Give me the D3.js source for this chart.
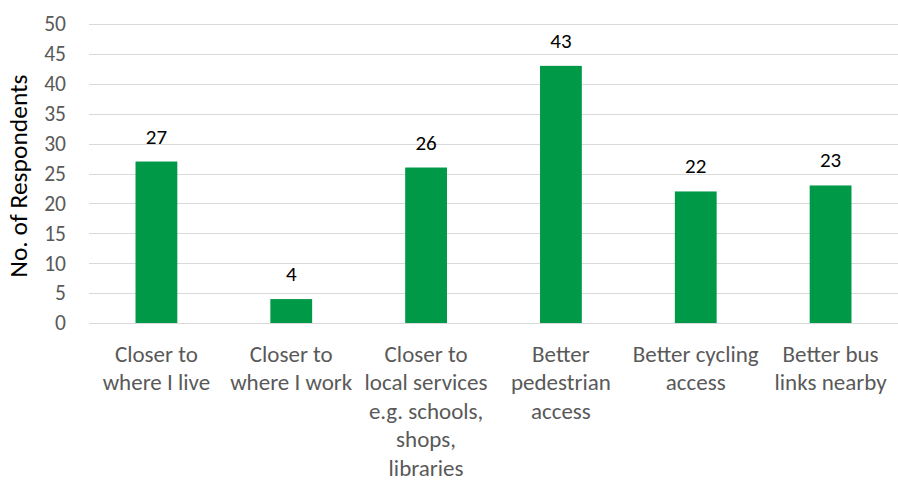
<!DOCTYPE html>
<html>
<head>
<meta charset="utf-8">
<script src="https://cdn.jsdelivr.net/npm/d3@7"></script>
<style>
  html, body { margin: 0; padding: 0; background: #fff; }
  svg { display: block; font-family: Carlito, Lato, "Open Sans", sans-serif; }
</style>
</head>
<body>
<svg id="chart" width="898" height="482"></svg>
<script>
const categories = [
  ["Closer to", "where I live"],
  ["Closer to", "where I work"],
  ["Closer to", "local services", "e.g. schools,", "shops,", "libraries"],
  ["Better", "pedestrian", "access"],
  ["Better cycling", "access"],
  ["Better bus", "links nearby"]
];
const values = [27, 4, 26, 43, 22, 23];
const yTicks = [0, 5, 10, 15, 20, 25, 30, 35, 40, 45, 50];
const yTitle = "No. of Respondents";

const svg = d3.select("#chart");
const margin = { left: 89, right: 0 };
const W = 898;
const x = d3.scaleBand()
  .domain(d3.range(categories.length))
  .range([margin.left, W - margin.right])
  .paddingInner(0.69).paddingOuter(0.345);
const y = d3.scaleLinear().domain([0, 50]).range([323, 24]);

// gridlines
svg.append("g").selectAll("line").data(yTicks).join("line")
  .attr("x1", margin.left).attr("x2", W)
  .attr("y1", d => Math.round(y(d)) + 0.5).attr("y2", d => Math.round(y(d)) + 0.5)
  .attr("stroke", "#d9d9d9").attr("stroke-width", 1);

// y axis labels
const yAxis = d3.axisLeft(y).tickValues(yTicks).tickSize(0).tickPadding(0);
const gy = svg.append("g").attr("transform", "translate(66,0)").call(yAxis);
gy.select(".domain").remove();
gy.selectAll("text").attr("font-size", 21.5).attr("fill", "#595959")
  .attr("font-family", "Carlito, Lato, 'Open Sans', sans-serif");

// bars
svg.append("g").selectAll("rect").data(values).join("rect")
  .attr("x", (d, i) => x(i)).attr("width", x.bandwidth())
  .attr("y", d => y(d)).attr("height", d => y(0) - y(d))
  .attr("fill", "#009947");

// data labels
svg.append("g").selectAll("text").data(values).join("text")
  .attr("x", (d, i) => x(i) + x.bandwidth() / 2)
  .attr("y", d => y(d) - 18)
  .attr("text-anchor", "middle")
  .attr("font-size", 21).attr("fill", "#000")
  .text(d => d);

// category labels
const cat = svg.append("g").selectAll("text").data(categories).join("text")
  .attr("text-anchor", "middle")
  .attr("font-size", 23).attr("fill", "#595959");
cat.each(function(lines, i) {
  const t = d3.select(this);
  lines.forEach((ln, k) => {
    t.append("tspan").attr("x", x(i) + x.bandwidth() / 2)
      .attr("y", 361.5 + k * 28.6).text(ln);
  });
});

// y title
svg.append("text")
  .attr("transform", "translate(27,176) rotate(-90)")
  .attr("text-anchor", "middle")
  .attr("font-size", 25.5).attr("fill", "#000")
  .text(yTitle);
</script>
</body>
</html>
